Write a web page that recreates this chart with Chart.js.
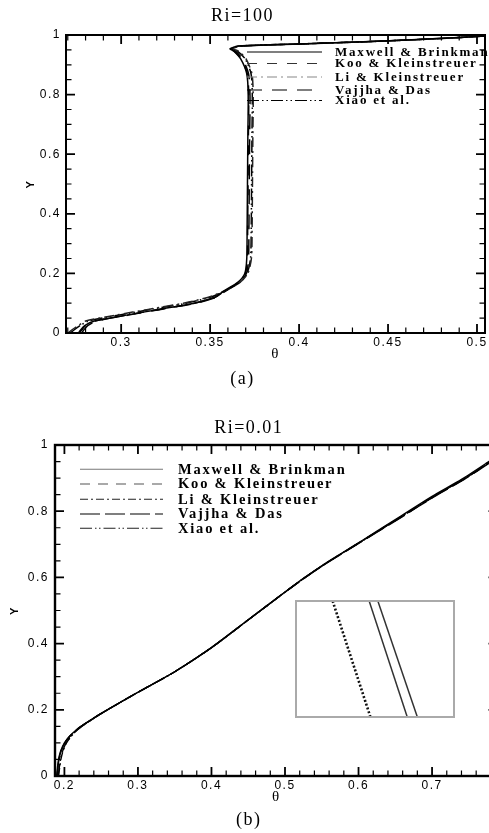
<!DOCTYPE html>
<html><head><meta charset="utf-8">
<script src="https://cdn.jsdelivr.net/npm/chart.js@4.4.1/dist/chart.umd.min.js"></script>
<style>
html,body{margin:0;padding:0;background:#fff;overflow:hidden;width:489px;height:833px;}
canvas{position:absolute;display:block;}
#chartA{left:0;top:0;}
#chartB{left:0;top:412px;}
#chartInset{left:294px;top:599px;}
</style></head><body>
<canvas id="chartA" width="508" height="395"></canvas>
<canvas id="chartB" width="508" height="421"></canvas>
<canvas id="chartInset" width="162" height="120"></canvas>
<script>
// ---------- data ----------
const seriesNames = ['Maxwell & Brinkman', 'Koo & Kleinstreuer', 'Li & Kleinstreuer', 'Vajjha & Das', 'Xiao et al.'];

// (a) Ri=100
const yTop = [0, 0.01, 0.025, 0.04, 0.06, 0.08, 0.10, 0.12, 0.14, 0.17, 0.20, 0.25, 0.35, 0.50, 0.65, 0.80, 0.87, 0.92, 0.945, 0.954, 0.963, 0.970, 0.978, 0.987, 0.997];
const thetaTopMaxwell = [0.2760, 0.2772, 0.2795, 0.2850, 0.3030, 0.3220, 0.3410, 0.3525, 0.3575, 0.3655, 0.3695, 0.3706, 0.3708, 0.3710, 0.3712, 0.3714, 0.3706, 0.3672, 0.3635, 0.3612, 0.3660, 0.4000, 0.4400, 0.4750, 0.5060];
const thetaTopKoo     = [0.2765, 0.2778, 0.2800, 0.2853, 0.3032, 0.3222, 0.3412, 0.3528, 0.3578, 0.3658, 0.3698, 0.3709, 0.3711, 0.3713, 0.3715, 0.3717, 0.3709, 0.3675, 0.3637, 0.3614, 0.3662, 0.4001, 0.4401, 0.4751, 0.5060];
const thetaTopLi      = [0.2703, 0.2722, 0.2760, 0.2800, 0.2970, 0.3160, 0.3350, 0.3490, 0.3575, 0.3668, 0.3712, 0.3732, 0.3736, 0.3738, 0.3740, 0.3742, 0.3735, 0.3702, 0.3660, 0.3630, 0.3672, 0.4005, 0.4405, 0.4753, 0.5060];
const thetaTopVajjha  = [0.2778, 0.2790, 0.2812, 0.2862, 0.3040, 0.3230, 0.3420, 0.3535, 0.3585, 0.3664, 0.3704, 0.3716, 0.3718, 0.3720, 0.3722, 0.3724, 0.3716, 0.3682, 0.3644, 0.3620, 0.3667, 0.4003, 0.4403, 0.4752, 0.5060];
const thetaTopXiao    = [0.2715, 0.2735, 0.2770, 0.2815, 0.2985, 0.3175, 0.3365, 0.3500, 0.3580, 0.3667, 0.3708, 0.3727, 0.3731, 0.3733, 0.3735, 0.3737, 0.3730, 0.3697, 0.3655, 0.3625, 0.3668, 0.4003, 0.4403, 0.4752, 0.5060];
const thetaTicksTop = [0.3, 0.35, 0.4, 0.45, 0.5];
const yTicks = [0, 0.2, 0.4, 0.6, 0.8, 1];

// (b) Ri=0.01
const yBot = [0, 0.025, 0.05, 0.075, 0.1, 0.12, 0.139, 0.158, 0.187, 0.222, 0.253, 0.315, 0.388, 0.472, 0.556, 0.6, 0.638, 0.673, 0.713, 0.783, 0.845, 0.896, 0.945, 0.97];
const thetaBotMaxwell = [0.1895, 0.1905, 0.1920, 0.1948, 0.2000, 0.2070, 0.2160, 0.2280, 0.2484, 0.2755, 0.3000, 0.3500, 0.4000, 0.4500, 0.5000, 0.5270, 0.5520, 0.5770, 0.6060, 0.6560, 0.7000, 0.7400, 0.7738, 0.7900];
const thetaBotKoo     = [0.1900, 0.1910, 0.1925, 0.1953, 0.2004, 0.2073, 0.2162, 0.2282, 0.2485, 0.2756, 0.3001, 0.3501, 0.4001, 0.4502, 0.5003, 0.5275, 0.5527, 0.5779, 0.6072, 0.6585, 0.7030, 0.7430, 0.7768, 0.7930];
const thetaBotLi      = [0.1920, 0.1935, 0.1952, 0.1980, 0.2028, 0.2092, 0.2175, 0.2290, 0.2488, 0.2757, 0.3001, 0.3501, 0.4001, 0.4501, 0.5002, 0.5273, 0.5524, 0.5776, 0.6068, 0.6575, 0.7020, 0.7420, 0.7760, 0.7925];
const thetaBotVajjha  = [0.1902, 0.1912, 0.1927, 0.1955, 0.2006, 0.2075, 0.2163, 0.2283, 0.2486, 0.2756, 0.3001, 0.3501, 0.4002, 0.4503, 0.5004, 0.5278, 0.5531, 0.5784, 0.6077, 0.6592, 0.7038, 0.7438, 0.7776, 0.7938];
const thetaBotXiao    = [0.1915, 0.1930, 0.1947, 0.1975, 0.2024, 0.2089, 0.2172, 0.2288, 0.2487, 0.2757, 0.3001, 0.3501, 0.4001, 0.4502, 0.5003, 0.5274, 0.5525, 0.5777, 0.6070, 0.6580, 0.7025, 0.7425, 0.7764, 0.7928];
const thetaTicksBot = [0.2, 0.3, 0.4, 0.5, 0.6, 0.7];

// inset (zoomed view, local units)
const insetY = [0, 1];
const insetDotted = [0.471, 0.232];
const insetSolidA = [0.704, 0.463];
const insetSolidB = [0.768, 0.518];

// ---------- helpers ----------
const pts = (xs, ys) => xs.map((v, i) => ({x: v, y: ys[i]}));
const fmt = v => String(+(+v).toFixed(3));

const spacingPlugin = {
  id: 'spacing',
  beforeDraw(chart) { chart.ctx.letterSpacing = '1.5px'; }
};

const framePlugin = {
  id: 'frame',
  afterDatasetsDraw(chart, args, o) {
    const {ctx, chartArea: a, scales: {x, y}} = chart;
    ctx.save();
    ctx.setLineDash([]);
    ctx.strokeStyle = '#000';
    const near = (v, arr) => arr.some(t => Math.abs(t - v) < 1e-6);
    const xMaj = x.ticks.map(t => t.value), yMaj = y.ticks.map(t => t.value);
    for (let k = Math.ceil(x.min / o.xMinor - 1e-9); k * o.xMinor <= x.max + 1e-9; k++) {
      const v = k * o.xMinor, major = near(v, xMaj);
      const len = major ? o.majorLen : o.minorLen, px = x.getPixelForValue(v);
      ctx.beginPath(); ctx.lineWidth = major ? 1.8 : 1.2;
      ctx.moveTo(px, a.bottom); ctx.lineTo(px, a.bottom - len);
      ctx.moveTo(px, a.top); ctx.lineTo(px, a.top + len);
      ctx.stroke();
    }
    for (let k = Math.ceil(y.min / o.yMinor - 1e-9); k * o.yMinor <= y.max + 1e-9; k++) {
      const v = k * o.yMinor, major = near(v, yMaj);
      const len = major ? o.majorLen : o.minorLen, py = y.getPixelForValue(v);
      ctx.beginPath(); ctx.lineWidth = major ? 1.8 : 1.2;
      ctx.moveTo(a.left, py); ctx.lineTo(a.left + len, py);
      ctx.moveTo(a.right, py); ctx.lineTo(a.right - len, py);
      ctx.stroke();
    }
    ctx.lineWidth = o.lineWidth;
    ctx.strokeRect(a.left, a.top, a.right - a.left, a.bottom - a.top);
    ctx.restore();
  }
};

const keyPlugin = {
  id: 'seriesKey',
  afterDraw(chart, args, o) {
    const ctx = chart.ctx;
    ctx.save();
    chart.data.datasets.forEach((ds, i) => {
      const yy = o.rows[i];
      ctx.beginPath();
      ctx.setLineDash(ds.borderDash || []);
      ctx.strokeStyle = o.lineColors ? o.lineColors[i] : ds.borderColor;
      ctx.lineWidth = 1.1;
      ctx.moveTo(o.lineStart, yy); ctx.lineTo(o.lineEnd, yy); ctx.stroke();
      ctx.setLineDash([]);
      ctx.font = o.font; ctx.letterSpacing = o.spacing;
      ctx.fillStyle = '#000'; ctx.textBaseline = 'middle'; ctx.textAlign = 'left';
      ctx.fillText(ds.label, o.textX, yy + 0.5);
    });
    ctx.restore();
  }
};

const insetBorder = {
  id: 'insetBorder',
  afterDraw(chart) {
    const {ctx, chartArea: a} = chart;
    ctx.save(); ctx.strokeStyle = '#aaaaaa'; ctx.lineWidth = 2; ctx.setLineDash([]);
    ctx.strokeRect(a.left, a.top, a.right - a.left, a.bottom - a.top);
    ctx.restore();
  }
};

function makeSets(thetas, ys, dashes, colors, width) {
  return thetas.map((t, i) => ({
    label: seriesNames[i], data: pts(t, ys), borderColor: colors[i], borderWidth: width,
    borderDash: dashes[i], pointRadius: 0, tension: 0.25, fill: false
  }));
}

const serifFont = (size, weight) => ({family: '"Liberation Serif", "Times New Roman", serif', size, weight: weight || 'normal', lineHeight: 1.2});
const sansFont = (size, weight) => ({family: '"Liberation Sans", Arial, sans-serif', size, weight: weight || 'normal', lineHeight: 1.2});

function makeChart(canvas, cfg) {
  return new Chart(canvas, {
    type: 'line',
    data: {datasets: cfg.datasets},
    options: {
      responsive: false, animation: false, devicePixelRatio: 1,
      layout: {padding: {left: 0, right: cfg.padRight, top: 0, bottom: 0}},
      plugins: {
        legend: {display: false}, tooltip: {enabled: false},
        title: {display: true, text: cfg.title, color: '#000', font: serifFont(18), padding: cfg.titlePad},
        subtitle: {display: true, position: 'bottom', text: cfg.sub, color: '#000', font: serifFont(18), padding: cfg.subPad},
        frame: cfg.frame,
        seriesKey: cfg.key
      },
      scales: {
        x: {
          type: 'linear', position: 'bottom', min: cfg.xMin, max: cfg.xMax, bounds: 'data',
          grid: {display: false, drawTicks: false}, border: {display: false},
          afterBuildTicks: s => { s.ticks = cfg.xTicks.map(v => ({value: v})); },
          afterFit: s => { s.height = cfg.xHeight; },
          ticks: {color: '#000', font: sansFont(12), padding: cfg.xTickPad, maxRotation: 0, autoSkip: false, callback: v => fmt(v)},
          title: {display: true, text: 'θ', color: '#000', font: serifFont(15), padding: {top: 0, bottom: cfg.thetaPad}}
        },
        y: {
          type: 'linear', position: 'left', min: 0, max: 1, bounds: 'data',
          grid: {display: false, drawTicks: false}, border: {display: false},
          afterBuildTicks: s => { s.ticks = yTicks.map(v => ({value: v})); },
          afterFit: s => { s.width = cfg.yWidth; },
          ticks: {color: '#000', font: sansFont(12), padding: cfg.yTickPad, autoSkip: false, callback: v => fmt(v)},
          title: {display: true, text: 'Y', color: '#000', font: sansFont(11, 'bold'), padding: {top: cfg.yTitlePad, bottom: 0}}
        }
      }
    },
    plugins: [spacingPlugin, framePlugin, keyPlugin]
  });
}

// (a)
makeChart(document.getElementById('chartA'), {
  datasets: makeSets(
    [thetaTopMaxwell, thetaTopKoo, thetaTopLi, thetaTopVajjha, thetaTopXiao], yTop,
    [[], [10, 10], [10, 4, 2, 4], [15, 10], [12, 3, 1.5, 3, 1.5, 3]],
    ['#000', '#000', '#222', '#000', '#000'], 1.5),
  title: 'Ri=100', sub: '(a)', padRight: 23,
  titlePad: {top: 5, bottom: 8.4}, subPad: {top: 4, bottom: 4.7},
  xMin: 0.269, xMax: 0.5045, xTicks: thetaTicksTop, xHeight: 31.7, xTickPad: 2, thetaPad: 1.7,
  yWidth: 66, yTickPad: 5, yTitlePad: 24,
  frame: {xMinor: 0.01, yMinor: 0.05, majorLen: 9, minorLen: 5.5, lineWidth: 2},
  key: {rows: [52, 63.5, 77, 90, 100.5], lineStart: 247, lineEnd: 322, textX: 335,
        font: 'bold 13px "Liberation Serif", serif', spacing: '1.8px',
        lineColors: ['#000', '#333', '#888', '#000', '#000']}
});

// (b)
makeChart(document.getElementById('chartB'), {
  datasets: makeSets(
    [thetaBotMaxwell, thetaBotKoo, thetaBotLi, thetaBotVajjha, thetaBotXiao], yBot,
    [[], [10, 8], [8, 3, 2, 3], [20, 5], [12, 3, 1.5, 2.5, 1.5, 3]],
    ['#000', '#000', '#000', '#000', '#000'], 1.4),
  title: 'Ri=0.01', sub: '(b)', padRight: 10.5,
  titlePad: {top: 5, bottom: 6.4}, subPad: {top: 3, bottom: 2.2},
  xMin: 0.1872, xMax: 0.789, xTicks: thetaTicksBot, xHeight: 30.2, xTickPad: 2, thetaPad: 0.2,
  yWidth: 55, yTickPad: 6, yTitlePad: 8.4,
  frame: {xMinor: 0.02, yMinor: 0.05, majorLen: 9, minorLen: 5.5, lineWidth: 2.4},
  key: {rows: [469.3, 484, 499.3, 514, 528.3].map(v => v - 412), lineStart: 80, lineEnd: 163, textX: 178,
        font: 'bold 14.5px "Liberation Serif", serif', spacing: '1.8px',
        lineColors: ['#777', '#555', '#222', '#000', '#222']}
});

// inset
new Chart(document.getElementById('chartInset'), {
  type: 'line',
  data: {datasets: [
    {data: pts(insetDotted, insetY), borderColor: '#111', borderWidth: 2.6, borderDash: [2, 2], pointRadius: 0},
    {data: pts(insetSolidA, insetY), borderColor: '#333', borderWidth: 1.5, pointRadius: 0},
    {data: pts(insetSolidB, insetY), borderColor: '#333', borderWidth: 1.5, pointRadius: 0}
  ]},
  options: {
    responsive: false, animation: false, devicePixelRatio: 1,
    layout: {padding: 2},
    plugins: {legend: {display: false}, tooltip: {enabled: false}},
    scales: {
      x: {type: 'linear', display: false, min: 0, max: 1},
      y: {type: 'linear', display: false, min: 0, max: 1}
    }
  },
  plugins: [insetBorder]
});
</script>
</body></html>
